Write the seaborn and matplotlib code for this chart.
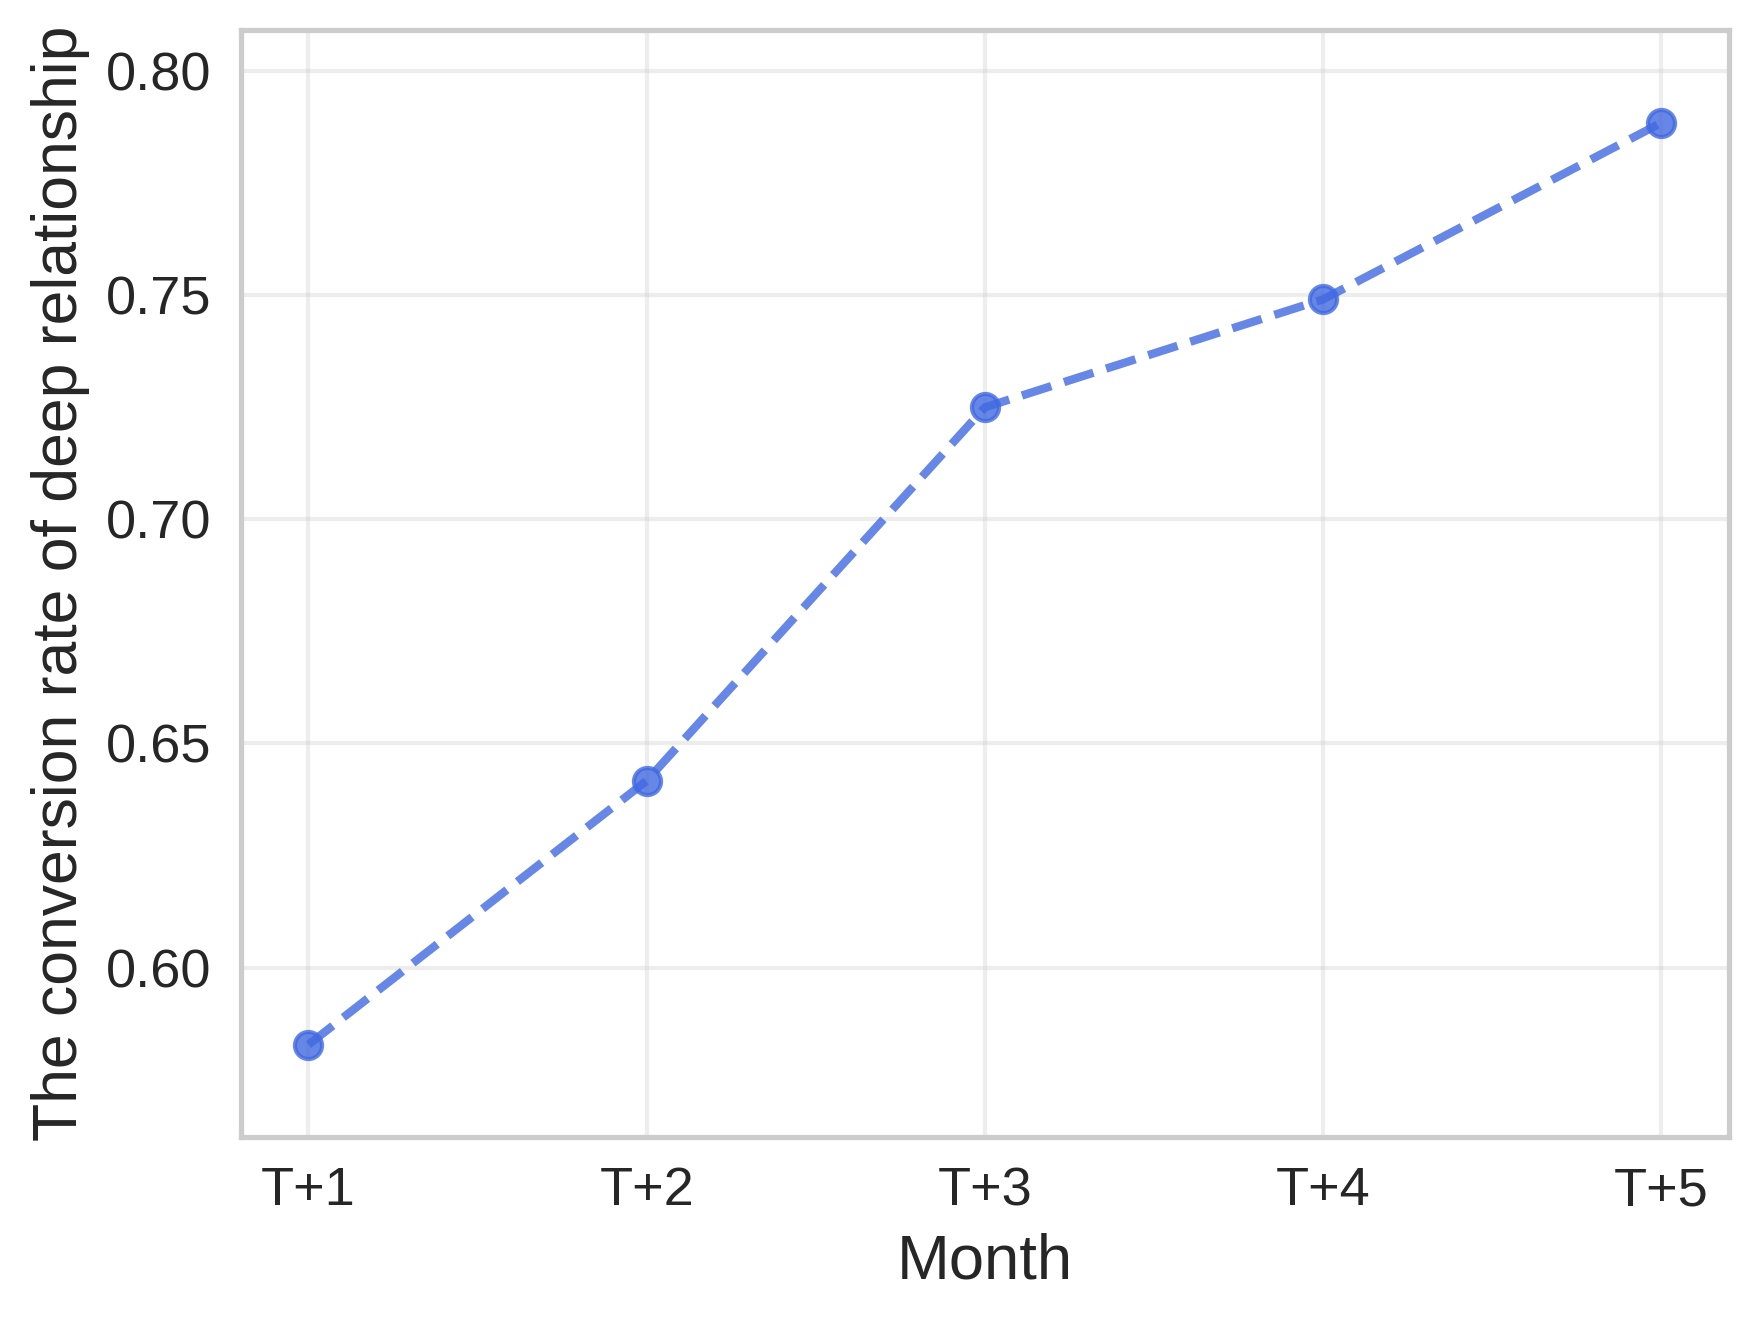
import numpy as np
import pandas as pd
import matplotlib
matplotlib.use("Agg")
import matplotlib.pyplot as plt
import seaborn as sns

months = ["T+1", "T+2", "T+3", "T+4", "T+5"]
conversion_rate = [0.5828, 0.6417, 0.7250, 0.7491, 0.7885]

sns.set_theme(style="whitegrid")
plt.rcParams['font.family'] = ['Liberation Sans', 'DejaVu Sans']

df = pd.DataFrame({"Month": months, "rate": conversion_rate})

fig, ax = plt.subplots(figsize=(5.86, 4.41), dpi=300)
fig.subplots_adjust(left=0.137, right=0.9835, top=0.977, bottom=0.1406)
sns.lineplot(data=df, x="Month", y="rate", ax=ax, marker="o", linestyle="--",
             color="royalblue", alpha=0.8, linewidth=2, markersize=6.5,
             markeredgewidth=1, markeredgecolor="royalblue")

ax.set_xlim(-0.2, 4.2)
ax.set_ylim(0.5622, 0.8091)
ax.set_yticks([0.60, 0.65, 0.70, 0.75, 0.80])
ax.grid(True, alpha=0.35)
ax.tick_params(labelsize=13, length=3.5, pad=3.5)
ax.set_xlabel("Month", fontsize=15.2)
ax.set_ylabel("The conversion rate of deep relationship", fontsize=15)

plt.savefig("out.png", dpi=300)
